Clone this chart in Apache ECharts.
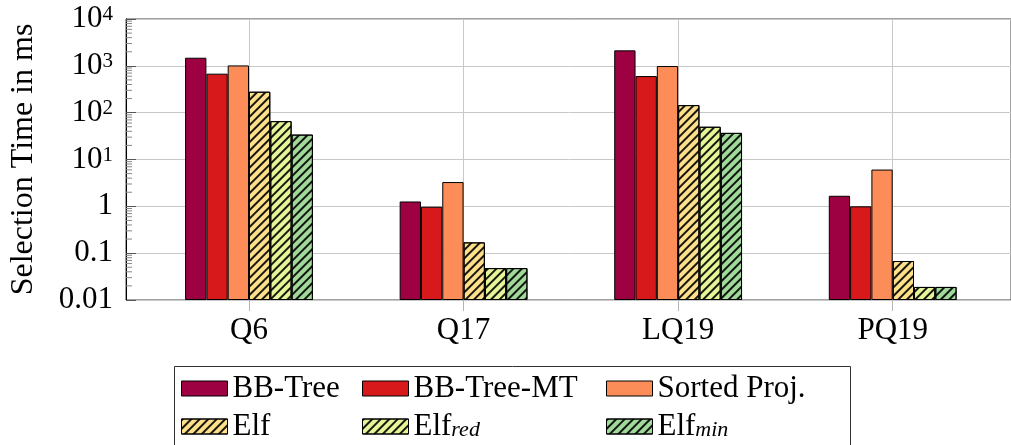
<!DOCTYPE html>
<html>
<head>
<meta charset="utf-8">
<script src="https://cdn.jsdelivr.net/npm/echarts@6/dist/echarts.min.js"></script>
<style>html,body{margin:0;padding:0;background:#fff}#c{width:1011px;height:445px}</style>
</head>
<body>
<div id="c"></div>
<script>
// ---- data ----
const categories = ['Q6', 'Q17', 'LQ19', 'PQ19'];
const seriesNames = ['BB-Tree', 'BB-Tree-MT', 'Sorted Proj.', 'Elf', 'Elf_red', 'Elf_min'];
const bbTree    = [1490, 1.27, 2140, 1.68];
const bbTreeMT  = [680, 0.98, 605, 1.0];
const sortedProj= [1020, 3.3, 990, 6.1];
const elf       = [280, 0.17, 145, 0.068];
const elfRed    = [66, 0.048, 50, 0.019];
const elfMin    = [34, 0.048, 37, 0.019];
const yTickValues = [0.01, 0.1, 1, 10, 100, 1000, 10000];
const yTickLabels = ['0.01', '0.1', '1', '10^1', '10^2', '10^3', '10^4'];
const minorTickValues = [];
[0.01, 0.1, 1, 10, 100, 1000].forEach(d => { for (let m = 2; m <= 9; m++) minorTickValues.push(+(d * m).toPrecision(3)); });

const colors = ['#9e0142', '#d7191c', '#fc8d59', '#fee08b', '#e6f598', '#a1d99b'];
const values = [bbTree, bbTreeMT, sortedProj, elf, elfRed, elfMin];
const hatched = [false, false, false, true, true, true];

const FONT = '"Liberation Serif", "DejaVu Serif", serif';
const FS = 30;

const chart = echarts.init(document.getElementById('c'), null, {renderer: 'canvas'});

const decal = {
  symbol: 'rect', symbolSize: 1,
  dashArrayX: [[1, 0]], dashArrayY: [1.3, 3.7],
  rotation: -Math.PI / 4, color: 'rgba(0,0,0,0.9)'
};

const barSeries = seriesNames.map((n, i) => ({
  name: n, type: 'bar', xAxisIndex: 1, yAxisIndex: 1,
  data: values[i], barWidth: 21.3, barGap: '0%', clip: false,
  itemStyle: Object.assign({color: colors[i], borderColor: '#000', borderWidth: 1},
    hatched[i] ? {decal: decal} : {}),
  emphasis: {disabled: true}
}));

function legendLabel(name) {
  if (name.indexOf('_') >= 0) {
    const p = name.split('_');
    return '{a|' + p[0] + '}{s|' + p[1] + '}';
  }
  return '{a|' + name + '}';
}
const legendPos = [
  [181, 373], [362, 373], [606, 373],
  [181, 411], [362, 411], [606, 411]
];
const legends = seriesNames.map((n, i) => ({
  data: [n], left: legendPos[i][0], top: legendPos[i][1], padding: 0,
  itemWidth: 46, itemHeight: 15, itemGap: 0, selectedMode: false,
  icon: 'rect',
  itemStyle: {borderColor: '#000', borderWidth: 1},
  formatter: legendLabel,
  textStyle: {
    fontFamily: FONT, fontSize: 31, color: '#000', padding: [0, 0, 0, 0],
    rich: {
      a: {fontFamily: FONT, fontSize: 31, lineHeight: 30, color: '#000'},
      s: {fontFamily: FONT, fontSize: 22, fontStyle: 'italic', lineHeight: 12, verticalAlign: 'bottom', color: '#000'}
    }
  }
}));

const option = {
  animation: false,
  backgroundColor: '#fff',
  legend: legends,
  graphic: [{
    type: 'rect', left: 172, top: 364,
    shape: {width: 676, height: 100},
    style: {fill: 'none', stroke: '#333', lineWidth: 1},
    z: 0, silent: true
  }],
  grid: [
    {left: 120, top: 19, width: 940, height: 281, show: true, borderColor: '#444', borderWidth: 1, backgroundColor: 'transparent'},
    {left: 249, top: 19, right: 118.3, height: 281, show: false}
  ],
  xAxis: [
    {gridIndex: 0, type: 'value', min: 0, max: 1, show: false},
    {gridIndex: 1, type: 'category', data: categories, boundaryGap: false,
      axisLine: {show: false},
      axisTick: {show: true, length: 11, inside: false, lineStyle: {color: '#b5b5b5', width: 1}},
      splitLine: {show: true, lineStyle: {color: '#c8c8c8', width: 1}},
      axisLabel: {fontFamily: FONT, fontSize: 31, color: '#000', margin: 15}
    }
  ],
  yAxis: [
    {gridIndex: 0, type: 'log', logBase: 10, min: 0.01, max: 10000,
      name: 'Selection Time in ms', nameLocation: 'middle', nameGap: 86,
      nameTextStyle: {fontFamily: FONT, fontSize: 32, color: '#000'},
      axisLine: {show: true, lineStyle: {color: '#000', width: 1}},
      axisTick: {show: true, inside: true, length: 10, lineStyle: {color: '#555'}},
      splitLine: {show: true, lineStyle: {color: '#c8c8c8', width: 1}},
      axisLabel: {
        margin: 13, color: '#000', fontFamily: FONT, fontSize: FS,
        formatter: function (v) {
          const idx = yTickValues.findIndex(t => Math.abs(Math.log10(t) - Math.log10(v)) < 1e-6);
          if (idx < 0) return '';
          const lab = yTickLabels[idx];
          if (lab.indexOf('^') >= 0) {
            const p = lab.split('^');
            return '{b|' + p[0] + '}{sup|' + p[1] + '}';
          }
          return '{b|' + lab + '}';
        },
        rich: {
          b: {fontFamily: FONT, fontSize: 31, color: '#000', lineHeight: 30},
          sup: {fontFamily: FONT, fontSize: 21, color: '#000', lineHeight: 14, verticalAlign: 'top'}
        }
      }
    },
    {gridIndex: 1, type: 'log', logBase: 10, min: 0.01, max: 10000, startValue: 0.01, show: false}
  ],
  series: barSeries.concat([{
    type: 'custom', xAxisIndex: 0, yAxisIndex: 0, silent: true, z: 5,
    data: minorTickValues.map(v => [0, v]),
    renderItem: function (params, api) {
      const p = api.coord([0, api.value(1)]);
      return {type: 'line', shape: {x1: p[0], y1: p[1], x2: p[0] + 6, y2: p[1]},
        style: {stroke: '#888', lineWidth: 1}};
    }
  }])
};
chart.setOption(option);
</script>
</body>
</html>
